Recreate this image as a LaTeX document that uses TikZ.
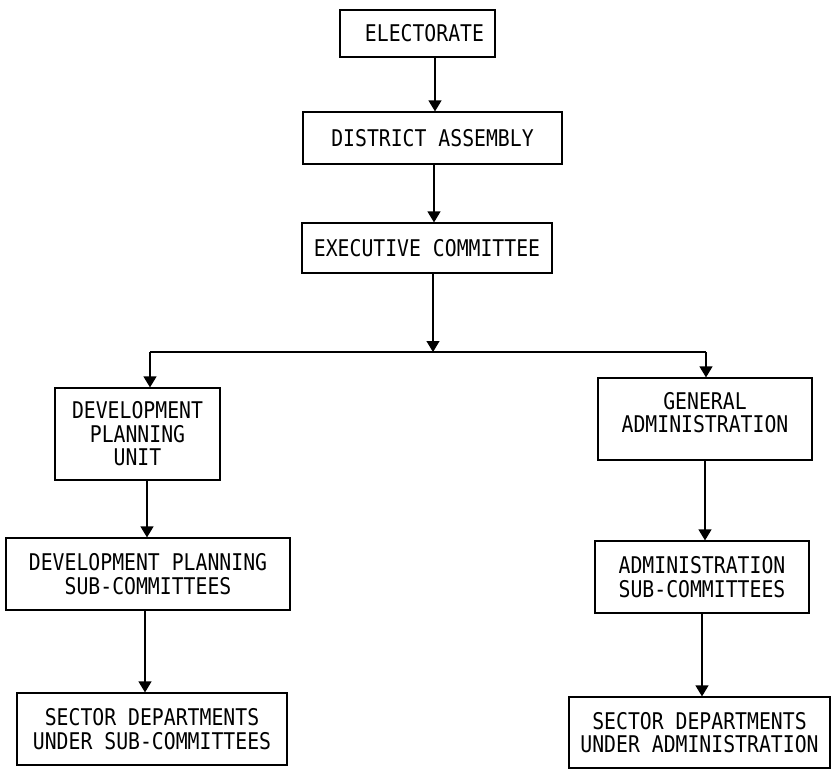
\documentclass[tikz,border=0pt]{standalone}
\usepackage{fontspec}
\newfontfamily\boxfont[FakeStretch=0.86]{DejaVu Sans Mono}
\usetikzlibrary{arrows.meta}
\tikzset{
  orgbox/.style={draw, line width=1.2pt, rectangle, align=center, inner sep=0pt,
    font=\boxfont\fontsize{23}{23.5}\selectfont},
  arr/.style={line width=1.2pt, -{Triangle[length=11pt,width=13pt]}},
  conn/.style={line width=1.2pt}
}
\begin{document}
\begin{tikzpicture}[x=1pt,y=-1pt]
\useasboundingbox (0,0) rectangle (831,769);
\node[orgbox, minimum width=155pt, minimum height=47pt] (E) at (417.5,33.5) {\hspace*{14pt}ELECTORATE};
\node[orgbox, minimum width=259pt, minimum height=52pt] (DA) at (432.5,138) {DISTRICT ASSEMBLY};
\node[orgbox, minimum width=250pt, minimum height=50pt] (EC) at (427,248) {EXECUTIVE COMMITTEE};
\node[orgbox, minimum width=165pt, minimum height=92pt] (DPU) at (137.5,434) {DEVELOPMENT\\PLANNING\\UNIT};
\node[orgbox, minimum width=214pt, minimum height=82pt] (GA) at (705,419) {GENERAL\\ADMINISTRATION\\[-10.5pt]};
\node[orgbox, minimum width=284pt, minimum height=72pt] (DPS) at (148,574) {DEVELOPMENT PLANNING\\SUB-COMMITTEES};
\node[orgbox, minimum width=214pt, minimum height=72pt] (AS) at (702,577) {ADMINISTRATION\\SUB-COMMITTEES};
\node[orgbox, minimum width=270pt, minimum height=72pt] (SDSC) at (152,729) {SECTOR DEPARTMENTS\\UNDER SUB-COMMITTEES};
\node[orgbox, minimum width=261pt, minimum height=71pt] (SDUA) at (699.5,732.5) {SECTOR DEPARTMENTS\\UNDER ADMINISTRATION};
\coordinate (J) at (433,352);
\coordinate (L) at (150,352);
\coordinate (R) at (706,352);
\draw[arr] (E.south -| 435,0) -- (DA.north -| 435,0);
\draw[arr] (DA.south -| 434,0) -- (EC.north -| 434,0);
\draw[arr] (EC.south -| J) -- (J);
\draw[conn] (L) -- (R);
\draw[arr] (L) -- (L |- DPU.north);
\draw[arr] (R) -- (R |- GA.north);
\draw[arr] (DPU.south -| 147,0) -- (DPS.north -| 147,0);
\draw[arr] (DPS.south -| 145,0) -- (SDSC.north -| 145,0);
\draw[arr] (GA.south -| 705,0) -- (AS.north -| 705,0);
\draw[arr] (AS.south -| 702,0) -- (SDUA.north -| 702,0);
\end{tikzpicture}
\end{document}
